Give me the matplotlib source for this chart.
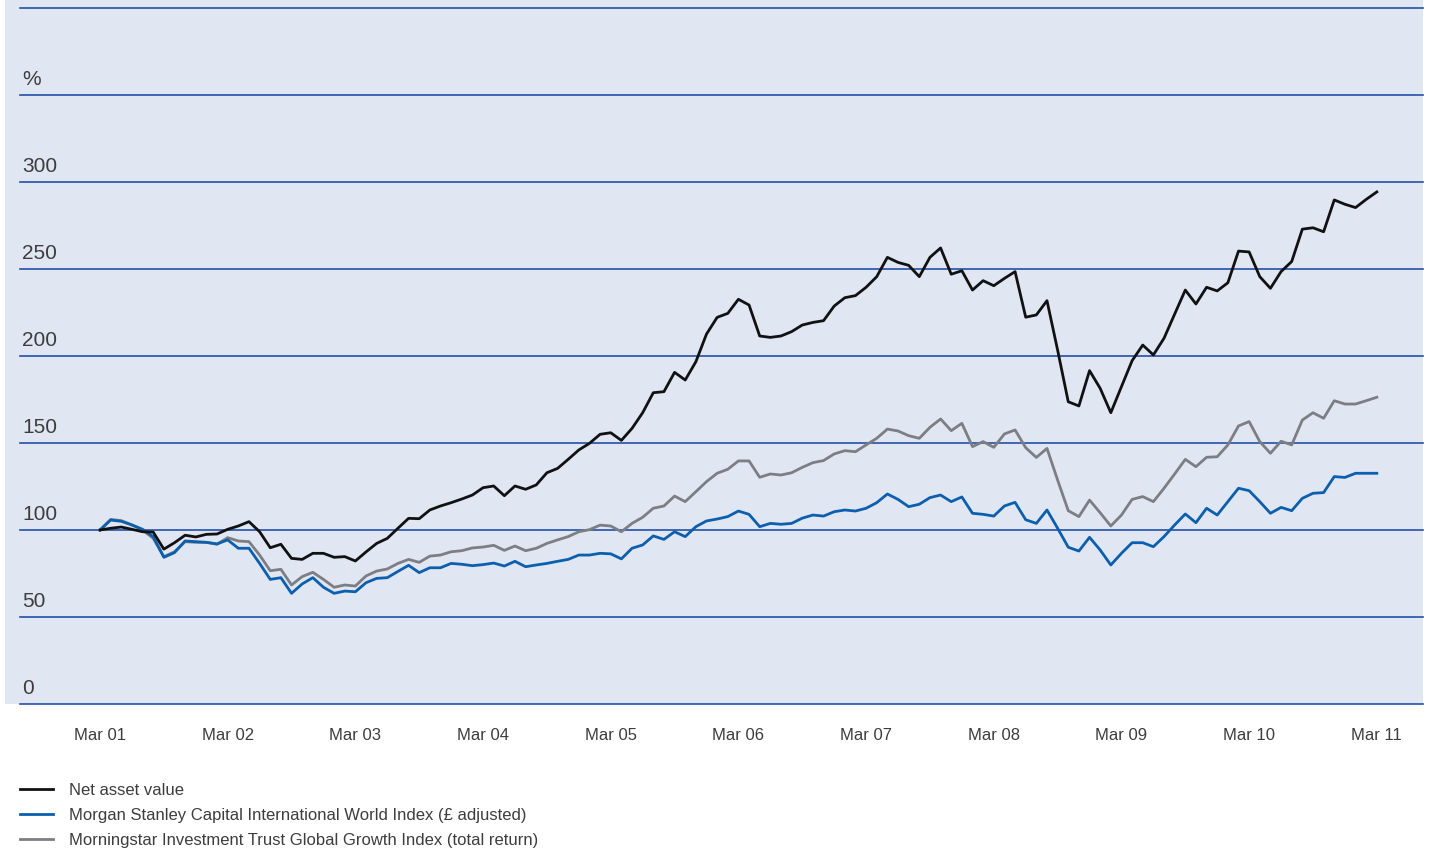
import numpy as np
import matplotlib
matplotlib.use("Agg")
import matplotlib.pyplot as plt
import matplotlib.transforms as mtransforms

plt.rcParams['font.family'] = ['Liberation Sans', 'DejaVu Sans']

# monthly values, Mar 01 .. Mar 11 (rebased to 100)
nav = [100, 101, 101.7, 100.4, 99, 98.8, 89, 92.7, 97, 96, 97.5, 97.7,
       100.4, 102.3, 104.8, 99, 89.8, 91.8, 83.7, 83.1, 86.6, 86.6, 84.3, 84.7,
       82.2, 87.4, 92.3, 95.2, 101, 106.7, 106.5, 111.5, 113.8, 115.7, 117.8, 120.1,
       124.3, 125.3, 119.7, 125.3, 123.4, 125.9, 132.9, 135.4, 140.6, 146, 149.8, 155,
       155.9, 151.5, 158.4, 167.4, 178.9, 179.5, 190.6, 186.2, 196.7, 212.6, 222.2, 224.5,
       232.6, 229.3, 211.5, 210.7, 211.5, 214, 217.8, 219.3, 220.3, 228.7, 233.5, 234.7,
       239.5, 245.6, 256.7, 253.8, 252.1, 245.6, 256.7, 262.1, 247, 249, 237.9, 243.3,
       240.4, 244.6, 248.5, 222.3, 223.6, 231.8, 203.4, 173.7, 171.3, 191.6, 181.4, 167.4,
       182.4, 197.3, 206.3, 200.6, 210.2, 224.1, 237.9, 229.9, 239.5, 237.4, 242.1, 260.3,
       259.8, 245.6, 238.9, 248.5, 254.3, 272.9, 273.7, 271.4, 289.7, 287.2, 285.3, 290,
       294.3]

msci = [100, 105.7, 105, 102.9, 100.4, 96.2, 84.3, 87, 93.7, 93.3, 92.9, 92,
        94.3, 89.5, 89.5, 80.8, 71.6, 72.6, 63.6, 69, 72.6, 67.1, 63.6, 64.9,
        64.5, 69.7, 72.2, 72.6, 76.2, 79.7, 75.5, 78.3, 78.3, 80.8, 80.3, 79.5,
        80.1, 81, 79.3, 82, 78.9, 79.9, 80.8, 82, 83.1, 85.6, 85.6, 86.6,
        86.3, 83.4, 89.5, 91.4, 96.6, 94.6, 99, 96.2, 101.9, 105.2, 106.3, 107.7,
        110.9, 109, 101.9, 103.8, 103.3, 103.8, 106.8, 108.6, 108, 110.5, 111.5, 110.9,
        112.5, 115.7, 120.7, 117.6, 113.4, 114.8, 118.6, 120.1, 116.3, 119, 109.6, 109,
        108, 113.8, 115.9, 105.9, 103.8, 111.5, 101, 90.1, 87.9, 95.8, 88.5, 79.9,
        86.6, 92.7, 92.7, 90.4, 96.2, 102.9, 109.2, 104.2, 112.5, 108.6, 116.3, 124,
        122.6, 116.3, 109.6, 113, 111.1, 118.2, 121.1, 121.5, 130.7, 130.2, 132.6, 132.6,
        132.6]

morningstar = [100, 106.1, 105.4, 102.9, 100, 95.2, 84.7, 87.5, 93.3, 92.9, 92.9, 91.8,
               95.6, 93.7, 93.3, 85.6, 76.6, 77.4, 68.4, 73.2, 75.7, 71.6, 67.1, 68.4,
               67.8, 73.6, 76.4, 77.6, 80.8, 83.1, 81.4, 85, 85.6, 87.5, 88.1, 89.7,
               90.2, 91.2, 88.3, 90.8, 88.1, 89.5, 92.3, 94.3, 96.2, 99, 100.2, 102.8,
               102.3, 99, 103.8, 107.3, 112.5, 113.8, 119.5, 116.3, 122, 127.8, 132.6, 134.9,
               139.7, 139.7, 130.3, 132.2, 131.6, 132.9, 136, 138.7, 139.9, 143.7, 145.6, 145,
               148.9, 152.7, 158, 156.9, 154.2, 152.7, 159, 163.8, 157.1, 161.3, 147.9, 150.8,
               147.5, 155.2, 157.5, 147.3, 141.7, 146.9, 128.7, 111.1, 107.7, 117.2, 109.9, 102.3,
               108.6, 117.6, 119.2, 116.3, 124, 132.2, 140.6, 136.4, 141.8, 142.1, 148.9, 159.8,
               162.3, 150.8, 144.1, 151, 148.9, 163.2, 167.4, 164.2, 174.3, 172.4, 172.4, 174.3,
               176.3]

series_labels = ["Net asset value",
                 "Morgan Stanley Capital International World Index (£ adjusted)",
                 "Morningstar Investment Trust Global Growth Index (total return)"]
x_labels = ["Mar 01", "Mar 02", "Mar 03", "Mar 04", "Mar 05", "Mar 06",
            "Mar 07", "Mar 08", "Mar 09", "Mar 10", "Mar 11"]
y_levels = [0, 50, 100, 150, 200, 250, 300, 350, 400]
y_labels = ["0", "50", "100", "150", "200", "250", "300", "%", ""]

months = np.arange(len(nav))
text_col = "#3d3d3d"

fig = plt.figure(figsize=(14.4, 8.56), dpi=100)
ax = fig.add_axes([5/1440, 1 - 704/856, 1418/1440, 704/856])
ax.set_facecolor("#e0e6f2")
for s in ax.spines.values():
    s.set_visible(False)

ax.set_xlim(-8.93, 124.34)
ax.set_ylim(0, 404.6)

for v in y_levels:
    ax.axhline(v, xmin=15/1418, xmax=1.0, color="#2352a8", lw=1.2, zorder=1,
               clip_on=False)

trans = mtransforms.blended_transform_factory(ax.transAxes, ax.transData)
for v, lab in zip(y_levels, y_labels):
    if lab:
        ax.annotate(lab, xy=(17/1418, v), xycoords=trans, xytext=(0, 7.5),
                    textcoords="offset points", ha="left", va="baseline",
                    fontsize=15, color=text_col)

ax.plot(months, nav, color="#111111", lw=2.0, zorder=4, label=series_labels[0])
ax.plot(months, msci, color="#0b5fae", lw=2.0, zorder=3, label=series_labels[1])
ax.plot(months, morningstar, color="#7d7e83", lw=2.0, zorder=2, label=series_labels[2])

ax.set_xticks(np.arange(0, 121, 12))
ax.set_xticklabels(x_labels, fontsize=12, color=text_col)
ax.tick_params(axis="x", length=0, pad=17)
ax.set_yticks([])

fig.legend(loc="upper left", bbox_to_anchor=(20/1440, 1 - 783/856), frameon=False,
           fontsize=12, handlelength=2.0, handletextpad=0.95, labelspacing=0.6,
           borderpad=0, borderaxespad=0, labelcolor=text_col)

fig.savefig("out.png", dpi=100, facecolor="white")
